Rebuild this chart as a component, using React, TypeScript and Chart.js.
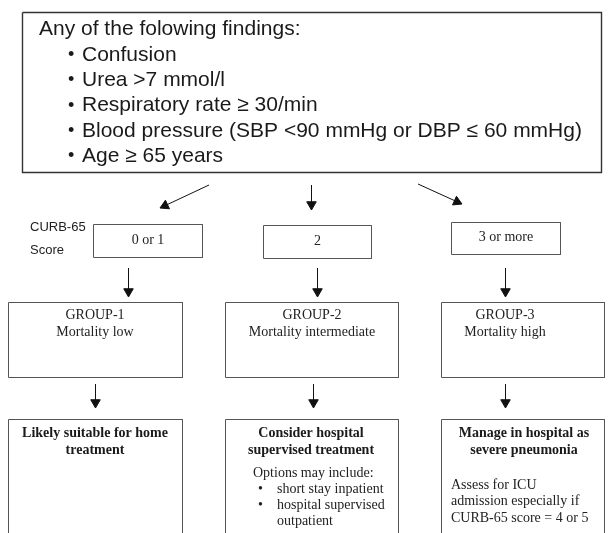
import React, { useEffect, useRef } from "react";
import { Chart, registerables } from "chart.js";

Chart.register(...registerables);

// ---------- content (data) ----------
const introText = "Any of the folowing findings:";
const findings = [
  "Confusion",
  "Urea >7 mmol/l",
  "Respiratory rate ≥ 30/min",
  "Blood pressure (SBP <90 mmHg or DBP ≤ 60 mmHg)",
  "Age ≥ 65 years",
];
const scoreAxisLabel = ["CURB-65", "Score"];
const scoreCategories = ["0 or 1", "2", "3 or more"];
const groupNames = ["GROUP-1", "GROUP-2", "GROUP-3"];
const mortalityLevels = ["Mortality low", "Mortality intermediate", "Mortality high"];
const actionTitles = [
  ["Likely suitable for home", "treatment"],
  ["Consider hospital", "supervised treatment"],
  ["Manage in hospital as", "severe pneumonia"],
];
const optionsIntro = "Options may include:";
const optionItems = [["short stay inpatient"], ["hospital supervised", "outpatient"]];
const icuNote = ["Assess for ICU", "admission especially if", "CURB-65 score = 4 or 5"];

// ---------- layout (diagram coordinates, 608 x 533 space) ----------
type Rect = [number, number, number, number];
type Seg = [number, number, number, number];
const W = 608;
const H = 533;
const topBox: Rect = [22.5, 12.5, 601.5, 172.5];
const introPos = [39, 29];
const bulletX = 68;
const findX = 82;
const findY0 = 55;
const findStep = 25.3;
const topArrows: Seg[] = [
  [209, 185, 160, 208],
  [311.5, 185, 311.5, 210],
  [418, 184, 462, 204],
];
const scoreLabelX = 30;
const scoreLabelY = [227, 250];
const scoreBoxes: Rect[] = [
  [93.5, 224.5, 202.5, 257.5],
  [263.5, 225.5, 371.5, 258.5],
  [451.5, 222.5, 560.5, 254.5],
];
const midArrows: Seg[] = [
  [128.5, 268, 128.5, 297],
  [317.5, 268, 317.5, 297],
  [505.5, 268, 505.5, 297],
];
const groupBoxes: Rect[] = [
  [8.5, 302.5, 182.5, 377.5],
  [225.5, 302.5, 398.5, 377.5],
  [441.5, 302.5, 604.5, 377.5],
];
const groupTextX = [95, 312, 505];
const groupTextY = [315, 332];
const lowArrows: Seg[] = [
  [95.5, 384, 95.5, 408],
  [313.5, 384, 313.5, 408],
  [505.5, 384, 505.5, 408],
];
const actionBoxes: Rect[] = [
  [8.5, 419.5, 182.5, 560],
  [225.5, 419.5, 398.5, 560],
  [441.5, 419.5, 604.5, 560],
];
const actionTitleX = [95, 311, 524];
const actionTitleY = [433, 450];
const optionsPos = [253, 473];
const optionBulletX = 258;
const optionTextX = 277;
const optionY0 = 489;
const optionStep = 16;
const icuX = 451;
const icuY0 = 485;
const icuStep = 16.5;

const HEAD_R = 5.5;
const SANS = '"Liberation Sans", Arial, sans-serif';
const SERIF = '"Liberation Serif", "Times New Roman", serif';

const rectPoints = (r: Rect) => [
  { x: r[0], y: r[1] },
  { x: r[2], y: r[1] },
  { x: r[2], y: r[3] },
  { x: r[0], y: r[3] },
  { x: r[0], y: r[1] },
];

type TextItem = { text: string; x: number; y: number; font: string; align: CanvasTextAlign; color: string };

function buildTexts(): TextItem[] {
  const out: TextItem[] = [];
  const topFont = `21px ${SANS}`;
  out.push({ text: introText, x: introPos[0], y: introPos[1], font: topFont, align: "left", color: "#1a1a1a" });
  findings.forEach((f, i) => {
    const y = findY0 + i * findStep;
    out.push({ text: "•", x: bulletX, y, font: `18px ${SANS}`, align: "left", color: "#1a1a1a" });
    out.push({ text: f, x: findX, y, font: topFont, align: "left", color: "#1a1a1a" });
  });
  scoreAxisLabel.forEach((t, i) =>
    out.push({ text: t, x: scoreLabelX, y: scoreLabelY[i], font: `13px ${SANS}`, align: "left", color: "#222" })
  );
  scoreCategories.forEach((t, i) => {
    const b = scoreBoxes[i];
    out.push({ text: t, x: (b[0] + b[2]) / 2, y: (b[1] + b[3]) / 2 - 1, font: `14px ${SERIF}`, align: "center", color: "#222" });
  });
  groupNames.forEach((t, i) => {
    out.push({ text: t, x: groupTextX[i], y: groupTextY[0], font: `14px ${SERIF}`, align: "center", color: "#222" });
    out.push({ text: mortalityLevels[i], x: groupTextX[i], y: groupTextY[1], font: `14px ${SERIF}`, align: "center", color: "#222" });
  });
  actionTitles.forEach((lines, i) =>
    lines.forEach((t, j) =>
      out.push({ text: t, x: actionTitleX[i], y: actionTitleY[j], font: `bold 14px ${SERIF}`, align: "center", color: "#1a1a1a" })
    )
  );
  out.push({ text: optionsIntro, x: optionsPos[0], y: optionsPos[1], font: `14px ${SERIF}`, align: "left", color: "#222" });
  let row = 0;
  optionItems.forEach((item) => {
    item.forEach((t, k) => {
      const y = optionY0 + row * optionStep;
      if (k === 0) out.push({ text: "•", x: optionBulletX, y, font: `14px ${SERIF}`, align: "left", color: "#222" });
      out.push({ text: t, x: optionTextX, y, font: `14px ${SERIF}`, align: "left", color: "#222" });
      row++;
    });
  });
  icuNote.forEach((t, i) =>
    out.push({ text: t, x: icuX, y: icuY0 + i * icuStep, font: `14px ${SERIF}`, align: "left", color: "#222" })
  );
  return out;
}

const textPlugin = {
  id: "flowText",
  afterDatasetsDraw(chart: any) {
    const { ctx, scales } = chart;
    const px = (v: number) => scales.x.getPixelForValue(v);
    const py = (v: number) => scales.y.getPixelForValue(v);
    ctx.save();
    ctx.textBaseline = "middle";
    for (const t of buildTexts()) {
      ctx.font = t.font;
      ctx.fillStyle = t.color;
      ctx.textAlign = t.align;
      ctx.fillText(t.text, px(t.x), py(t.y));
    }
    ctx.restore();
  },
};

function buildDatasets() {
  const ds: any[] = [];
  const boxDs = (r: Rect, color: string, width: number) => ({
    type: "line",
    data: rectPoints(r),
    borderColor: color,
    borderWidth: width,
    pointRadius: 0,
    tension: 0,
    fill: false,
    clip: false,
  });
  ds.push(boxDs(topBox, "#333", 1.4));
  [...scoreBoxes, ...groupBoxes, ...actionBoxes].forEach((r) => ds.push(boxDs(r, "#555", 1)));

  const arrows = [...topArrows, ...midArrows, ...lowArrows];
  const heads: { x: number; y: number }[] = [];
  const rots: number[] = [];
  arrows.forEach(([x1, y1, x2, y2]) => {
    const dx = x2 - x1;
    const dy = y2 - y1;
    const len = Math.hypot(dx, dy);
    const ux = dx / len;
    const uy = dy / len;
    const cx = x2 - ux * HEAD_R;
    const cy = y2 - uy * HEAD_R;
    ds.push({
      type: "line",
      data: [
        { x: x1, y: y1 },
        { x: cx, y: cy },
      ],
      borderColor: "#111",
      borderWidth: 1,
      pointRadius: 0,
      fill: false,
      clip: false,
    });
    heads.push({ x: cx, y: cy });
    rots.push((Math.atan2(ux, -uy) * 180) / Math.PI);
  });
  ds.push({
    type: "scatter",
    data: heads,
    pointStyle: "triangle",
    pointRadius: HEAD_R,
    rotation: rots,
    backgroundColor: "#111",
    borderColor: "#111",
    borderWidth: 1,
    clip: false,
  });
  return ds;
}

export default function App() {
  const ref = useRef<HTMLCanvasElement | null>(null);
  useEffect(() => {
    document.body.style.margin = "0";
    const canvas = ref.current;
    if (!canvas) return;
    const chart = new Chart(canvas, {
      type: "scatter",
      data: { datasets: buildDatasets() },
      options: {
        animation: false,
        responsive: false,
        devicePixelRatio: 1,
        layout: { padding: 0, autoPadding: false },
        events: [],
        plugins: { legend: { display: false }, tooltip: { enabled: false }, title: { display: false } },
        scales: {
          x: { type: "linear", min: 0, max: W, display: false },
          y: { type: "linear", min: 0, max: H, reverse: true, display: false },
        },
      },
      plugins: [textPlugin],
    } as any);
    return () => chart.destroy();
  }, []);
  return (
    <div style={{ position: "absolute", left: 0, top: 0, width: W, height: H, background: "#fff" }}>
      <canvas ref={ref} width={W} height={H} style={{ display: "block" }} />
    </div>
  );
}
